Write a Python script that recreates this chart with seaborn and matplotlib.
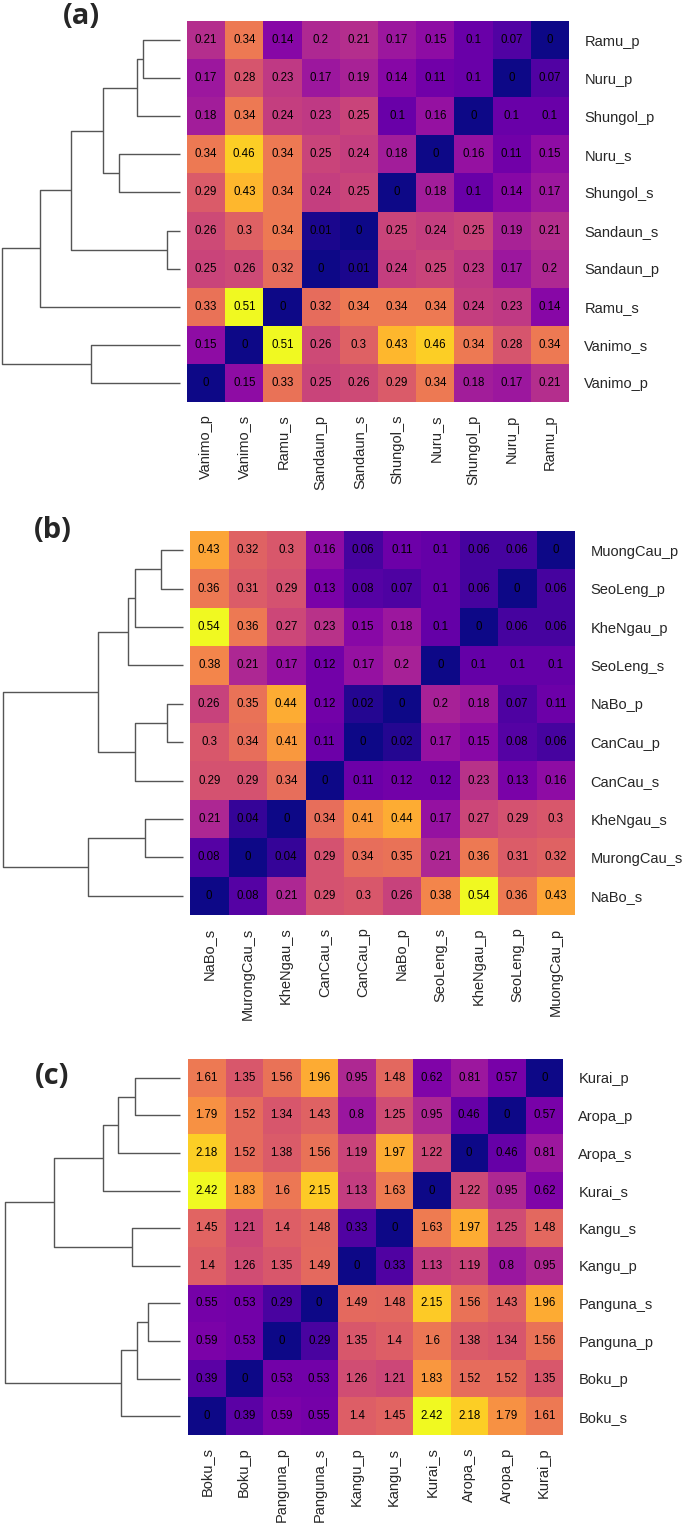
import matplotlib
matplotlib.use('Agg')
import matplotlib.pyplot as plt
import pandas as pd
import seaborn as sns

# panel (a): rows top to bottom, columns are the same names reversed
names_a = ['Ramu_p', 'Nuru_p', 'Shungol_p', 'Nuru_s', 'Shungol_s',
           'Sandaun_s', 'Sandaun_p', 'Ramu_s', 'Vanimo_s', 'Vanimo_p']
values_a = [
    [0.21, 0.34, 0.14, 0.2, 0.21, 0.17, 0.15, 0.1, 0.07, 0],
    [0.17, 0.28, 0.23, 0.17, 0.19, 0.14, 0.11, 0.1, 0, 0.07],
    [0.18, 0.34, 0.24, 0.23, 0.25, 0.1, 0.16, 0, 0.1, 0.1],
    [0.34, 0.46, 0.34, 0.25, 0.24, 0.18, 0, 0.16, 0.11, 0.15],
    [0.29, 0.43, 0.34, 0.24, 0.25, 0, 0.18, 0.1, 0.14, 0.17],
    [0.26, 0.3, 0.34, 0.01, 0, 0.25, 0.24, 0.25, 0.19, 0.21],
    [0.25, 0.26, 0.32, 0, 0.01, 0.24, 0.25, 0.23, 0.17, 0.2],
    [0.33, 0.51, 0, 0.32, 0.34, 0.34, 0.34, 0.24, 0.23, 0.14],
    [0.15, 0, 0.51, 0.26, 0.3, 0.43, 0.46, 0.34, 0.28, 0.34],
    [0, 0.15, 0.33, 0.25, 0.26, 0.29, 0.34, 0.18, 0.17, 0.21],
]
# merges: (child, child, height); leaves are row indices, new nodes 10, 11, ...
links_a = [(0, 1, 37), (10, 2, 43), (3, 4, 61), (11, 12, 77), (5, 6, 13),
           (13, 14, 109), (15, 7, 140), (8, 9, 89), (16, 17, 178)]

names_b = ['MuongCau_p', 'SeoLeng_p', 'KheNgau_p', 'SeoLeng_s', 'NaBo_p',
           'CanCau_p', 'CanCau_s', 'KheNgau_s', 'MurongCau_s', 'NaBo_s']
values_b = [
    [0.43, 0.32, 0.3, 0.16, 0.06, 0.11, 0.1, 0.06, 0.06, 0],
    [0.36, 0.31, 0.29, 0.13, 0.08, 0.07, 0.1, 0.06, 0, 0.06],
    [0.54, 0.36, 0.27, 0.23, 0.15, 0.18, 0.1, 0, 0.06, 0.06],
    [0.38, 0.21, 0.17, 0.12, 0.17, 0.2, 0, 0.1, 0.1, 0.1],
    [0.26, 0.35, 0.44, 0.12, 0.02, 0, 0.2, 0.18, 0.07, 0.11],
    [0.3, 0.34, 0.41, 0.11, 0, 0.02, 0.17, 0.15, 0.08, 0.06],
    [0.29, 0.29, 0.34, 0, 0.11, 0.12, 0.12, 0.23, 0.13, 0.16],
    [0.21, 0.04, 0, 0.34, 0.41, 0.44, 0.17, 0.27, 0.29, 0.3],
    [0.08, 0, 0.04, 0.29, 0.34, 0.35, 0.21, 0.36, 0.31, 0.32],
    [0, 0.08, 0.21, 0.29, 0.3, 0.26, 0.38, 0.54, 0.36, 0.43],
]
links_b = [(0, 1, 22), (10, 2, 48), (11, 3, 55), (4, 5, 16), (13, 6, 48),
           (12, 14, 85), (7, 8, 38), (16, 9, 95), (15, 17, 180)]

names_c = ['Kurai_p', 'Aropa_p', 'Aropa_s', 'Kurai_s', 'Kangu_s',
           'Kangu_p', 'Panguna_s', 'Panguna_p', 'Boku_p', 'Boku_s']
values_c = [
    [1.61, 1.35, 1.56, 1.96, 0.95, 1.48, 0.62, 0.81, 0.57, 0],
    [1.79, 1.52, 1.34, 1.43, 0.8, 1.25, 0.95, 0.46, 0, 0.57],
    [2.18, 1.52, 1.38, 1.56, 1.19, 1.97, 1.22, 0, 0.46, 0.81],
    [2.42, 1.83, 1.6, 2.15, 1.13, 1.63, 0, 1.22, 0.95, 0.62],
    [1.45, 1.21, 1.4, 1.48, 0.33, 0, 1.63, 1.97, 1.25, 1.48],
    [1.4, 1.26, 1.35, 1.49, 0, 0.33, 1.13, 1.19, 0.8, 0.95],
    [0.55, 0.53, 0.29, 0, 1.49, 1.48, 2.15, 1.56, 1.43, 1.96],
    [0.59, 0.53, 0, 0.29, 1.35, 1.4, 1.6, 1.38, 1.34, 1.56],
    [0.39, 0, 0.53, 0.53, 1.26, 1.21, 1.83, 1.52, 1.52, 1.35],
    [0, 0.39, 0.59, 0.55, 1.4, 1.45, 2.42, 2.18, 1.79, 1.61],
]
links_c = [(0, 1, 45), (10, 2, 62), (11, 3, 77), (4, 5, 48), (12, 13, 126),
           (6, 7, 32), (15, 8, 43), (16, 9, 59), (14, 17, 175)]

W, H = 685, 1525
sns.set_style('white')
plt.rcParams['font.family'] = ['Liberation Sans', 'DejaVu Sans']
fig = plt.figure(figsize=(W / 100, H / 100), dpi=100)


def px_axes(x0, y0, x1, y1):
    # pixel box (top-left origin) -> figure axes
    return fig.add_axes([x0 / W, 1 - y1 / H, (x1 - x0) / W, (y1 - y0) / H])


def draw_dendrogram(ax, links, n):
    ypos = {i: i + 0.5 for i in range(n)}
    xpos = {i: 0 for i in range(n)}
    for k, (a, b, h) in enumerate(links):
        ax.plot([xpos[a], h, h, xpos[b]], [ypos[a], ypos[a], ypos[b], ypos[b]],
                color='#555555', lw=1.0, clip_on=False, solid_capstyle='butt')
        ypos[n + k] = (ypos[a] + ypos[b]) / 2
        xpos[n + k] = h
    ax.set_xlim(max(l[2] for l in links), 0)
    ax.set_ylim(n, 0)
    ax.axis('off')


def panel(names, values, links, box, dendro_x, tag, tag_xy):
    x0, y0, x1, y1 = box
    df = pd.DataFrame(values, index=names, columns=names[::-1])
    ax = px_axes(x0, y0, x1, y1)
    sns.heatmap(df, ax=ax, cmap='plasma', vmin=0, vmax=df.values.max(),
                annot=True, fmt='g', cbar=False,
                annot_kws={'size': 8.3, 'color': 'black'})
    ax.yaxis.tick_right()
    ax.tick_params(length=0, labelsize=10.5)
    ax.tick_params(axis='y', pad=11)
    ax.tick_params(axis='x', pad=9)
    plt.setp(ax.get_yticklabels(), rotation=0)
    plt.setp(ax.get_xticklabels(), rotation=90)
    ax.set_xlabel('')
    ax.set_ylabel('')

    dax = px_axes(dendro_x[0], y0, dendro_x[1], y1)
    draw_dendrogram(dax, links, len(names))

    fig.text(tag_xy[0] / W, 1 - tag_xy[1] / H, tag, ha='center', va='center',
             fontsize=21, fontweight='bold', family=['Open Sans', 'DejaVu Sans'])


panel(names_a, values_a, links_a, (187, 21, 569, 402), (2, 180), '(a)', (81, 16))
panel(names_b, values_b, links_b, (190, 531, 575, 915), (3, 183), '(b)', (53, 530))
panel(names_c, values_c, links_c, (188, 1059, 563, 1435), (5, 180), '(c)', (52, 1076))

fig.savefig('out.png', dpi=100)
